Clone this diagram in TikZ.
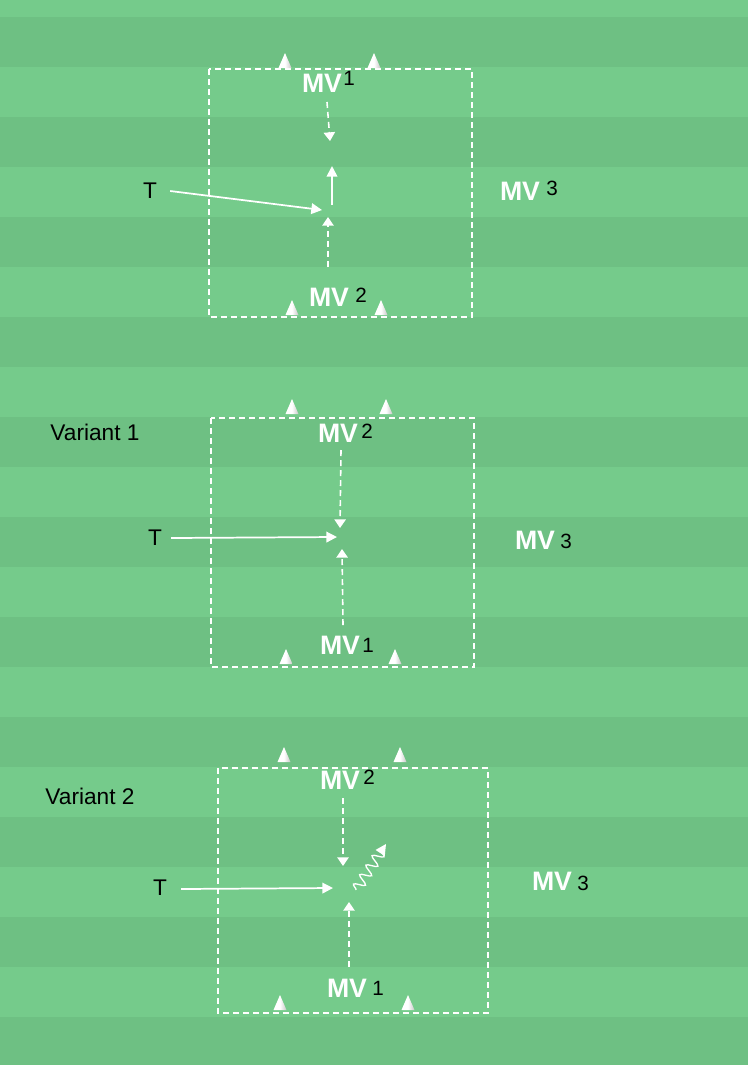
\documentclass[tikz,border=0pt]{standalone}
\usepackage{fontspec}
\setmainfont{Liberation Sans}
\usetikzlibrary{arrows.meta,decorations.pathmorphing}

\definecolor{grasslight}{RGB}{117,203,139}
\definecolor{grassdark}{RGB}{110,192,131}

\begin{document}
\begin{tikzpicture}[x=0.75pt,y=-0.75pt,
	field/.style = {draw=white, line width=1.2pt, dash pattern=on 4.5pt off 3pt},
	run/.style = {draw=white, line width=1.2pt, dash pattern=on 4.5pt off 3pt, -{Triangle[width=8.5pt,length=6.5pt]}},
	pass/.style = {draw=white, line width=1.3pt, -{Triangle[width=8pt,length=8pt]}},
	mv/.style = {text=white, font=\bfseries\fontsize{20}{22}\selectfont, inner sep=0pt},
	num/.style = {font=\fontsize{15.5}{17}\selectfont, inner sep=0pt},
	lab/.style = {font=\fontsize{17}{19}\selectfont, inner sep=0pt},
	cone/.pic = {\shade[left color=white, right color=gray!45, middle color=white] (-6.5,0) -- (0,-15) -- (6.5,0) -- cycle;}]

	% field
	\useasboundingbox (0,0) rectangle (748,1065);
	\fill[grasslight] (0,0) rectangle (748,1065);
	\foreach \y in {17,117,...,1017}
		\fill[grassdark] (0,\y) rectangle (748,\y+50);

	% --- basic form ---
	\draw[field] (209,69) rectangle (472,317);
	\foreach \x/\y in {285/68, 374/68, 292/315, 381/315}
		\pic at (\x,\y) {cone};
	\node[mv] (mva1) at (322,83) {MV};
	\node[num] (na1) at (349,78) {1};
	\node[mv] (mva2) at (329,297) {MV};
	\node[num] (na2) at (361,295) {2};
	\node[mv] (mva3) at (520,191) {MV};
	\node[num] (na3) at (552,188) {3};
	\node[lab] (ta) at (150,191) {T};
	\coordinate (pa) at (322,210);
	\coordinate (ra1) at (327,102);
	\coordinate (ra1e) at (330,141);
	\coordinate (ra2) at (328,267);
	\coordinate (ra2e) at (328,217);
	\coordinate (sa) at (332,205);
	\coordinate (sae) at (332,166);
	\draw[pass] (ta.east) ++(13,0) -- (pa);
	\draw[run] (ra1) -- (ra1e);
	\draw[run] (ra2) -- (ra2e);
	\draw[pass] (sa) -- (sae);

	% --- variant 1 ---
	\node[lab] (v1) at (95,432) {Variant 1};
	\draw[field] (211,418) rectangle (474,667);
	\foreach \x/\y in {292/414, 386/414, 286/664, 395/664}
		\pic at (\x,\y) {cone};
	\node[mv] (mvb2) at (338,433) {MV};
	\node[num] (nb2) at (367,431) {2};
	\node[mv] (mvb1) at (340,645) {MV};
	\node[num] (nb1) at (368,645) {1};
	\node[mv] (mvb3) at (535,540) {MV};
	\node[num] (nb3) at (566,541) {3};
	\node[lab] (tb) at (155,538) {T};
	\coordinate (pb) at (337,537);
	\coordinate (rb2) at (341,450);
	\coordinate (rb2e) at (340,528);
	\coordinate (rb1) at (343,625);
	\coordinate (rb1e) at (342,549);
	\draw[pass] (tb.east) ++(9,0) -- (pb);
	\draw[run] (rb2) -- (rb2e);
	\draw[run] (rb1) -- (rb1e);

	% --- variant 2 ---
	\node[lab] (v2) at (90,796) {Variant 2};
	\draw[field] (218,768) rectangle (488,1013);
	\foreach \x/\y in {284/762, 400/762, 280/1010, 408/1010}
		\pic at (\x,\y) {cone};
	\node[mv] (mvc2) at (340,780) {MV};
	\node[num] (nc2) at (369,777) {2};
	\node[mv] (mvc1) at (347,988) {MV};
	\node[num] (nc1) at (378,988) {1};
	\node[mv] (mvc3) at (552,881) {MV};
	\node[num] (nc3) at (583,883) {3};
	\node[lab] (tc) at (160,888) {T};
	\coordinate (pc) at (333,888);
	\coordinate (rc2) at (343,798);
	\coordinate (rc2e) at (343,866);
	\coordinate (rc1) at (349,967);
	\coordinate (rc1e) at (349,902);
	\coordinate (dc) at (356,890);
	\coordinate (dce) at (386,844);
	\draw[pass, line width=1pt, decorate, decoration={snake, amplitude=4pt, segment length=8.5pt, post length=6pt}] (dc) -- (dce);
	\draw[pass] (tc.east) ++(14,1) -- (pc);
	\draw[run] (rc2) -- (rc2e);
	\draw[run] (rc1) -- (rc1e);

\end{tikzpicture}
\end{document}
